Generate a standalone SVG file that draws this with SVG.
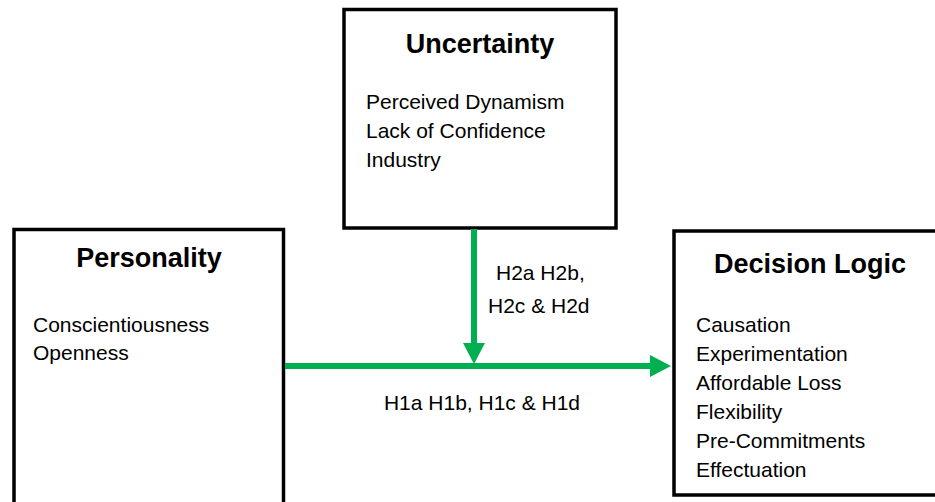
<svg xmlns="http://www.w3.org/2000/svg" width="935" height="502" viewBox="0 0 935 502">
<style>
.box{fill:#fff;stroke:#000;stroke-width:3.5}
.h{font-family:"Liberation Sans",Arial,sans-serif;font-weight:bold;font-size:27px;fill:#000;text-anchor:middle}
.t{font-family:"Liberation Sans",Arial,sans-serif;font-size:21px;fill:#000}
.lbl{font-family:"Liberation Sans",Arial,sans-serif;font-size:21px;fill:#000}
.conn{stroke:#00B050;stroke-width:6;fill:none}
</style>
<defs>
<marker id="ah" markerUnits="userSpaceOnUse" markerWidth="22" markerHeight="22" refX="0" refY="11" orient="auto">
<path d="M0,0 L21,11 L0,22 z" fill="#00B050"/>
</marker>
</defs>
<rect width="935" height="502" fill="#fff"/>
<g id="uncertainty">
<rect class="box" x="344" y="9.5" width="272" height="218.5"/>
<text class="h" x="480" y="53">Uncertainty</text>
<text class="t" x="366" y="109">Perceived Dynamism</text>
<text class="t" x="366" y="138">Lack of Confidence</text>
<text class="t" x="366" y="167">Industry</text>
</g>
<g id="personality">
<rect class="box" x="14" y="229.5" width="269.5" height="300"/>
<text class="h" x="149" y="267">Personality</text>
<text class="t" x="33" y="332">Conscientiousness</text>
<text class="t" x="33" y="360">Openness</text>
</g>
<g id="decision-logic">
<rect class="box" x="674" y="231" width="300" height="264"/>
<text class="h" x="810" y="273">Decision Logic</text>
<text class="t" x="696" y="332">Causation</text>
<text class="t" x="696" y="361">Experimentation</text>
<text class="t" x="696" y="390">Affordable Loss</text>
<text class="t" x="696" y="419">Flexibility</text>
<text class="t" x="696" y="448">Pre-Commitments</text>
<text class="t" x="696" y="477">Effectuation</text>
</g>
<g id="connectors">
<line class="conn" x1="285" y1="366" x2="650" y2="366" marker-end="url(#ah)"/>
<line class="conn" x1="474" y1="229" x2="474" y2="343" marker-end="url(#ah)"/>
<text class="lbl" x="496" y="280">H2a H2b,</text>
<text class="lbl" x="488" y="313">H2c &amp; H2d</text>
<text class="lbl" x="482" y="410" text-anchor="middle">H1a H1b, H1c &amp; H1d</text>
</g>
</svg>
